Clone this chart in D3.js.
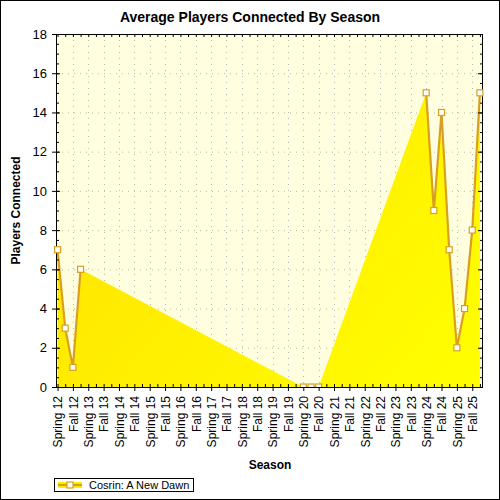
<!DOCTYPE html>
<html>
<head>
<meta charset="utf-8">
<script src="https://cdn.jsdelivr.net/npm/d3@7"></script>
<style>
  body { margin: 0; background: #fff; }
  svg { display: block; font-family: Arial, "Liberation Sans", sans-serif; }
  .tick line { stroke: #000; }
</style>
</head>
<body>
<div id="chart"></div>
<script>
// x labels: one per season, two data steps per season
const seasons = [
    'Spring 12', 'Fall 12', 'Spring 13', 'Fall 13', 'Spring 14', 'Fall 14',
    'Spring 15', 'Fall 15', 'Spring 16', 'Fall 16', 'Spring 17', 'Fall 17',
    'Spring 18', 'Fall 18', 'Spring 19', 'Fall 19', 'Spring 20', 'Fall 20',
    'Spring 21', 'Fall 21', 'Spring 22', 'Fall 22', 'Spring 23', 'Fall 23',
    'Spring 24', 'Fall 24', 'Spring 25', 'Fall 25'
];
// half-season steps that have a value (0 = Spring 12)
const pointSteps  = [0, 1, 2, 3, 32, 33, 34, 48, 49, 50, 51, 52, 53, 54, 55];
const pointValues = [7, 3, 1, 6, 0, 0, 0, 15, 9, 14, 7, 2, 4, 8, 15];
const yTicks = [0, 2, 4, 6, 8, 10, 12, 14, 16, 18];
const seriesName = 'Cosrin: A New Dawn';

const W = 500, H = 500;
const plot = { left: 56, right: 483, top: 34, bottom: 387 };
const lineColor = '#d9a020';

const data = pointSteps.map((s, i) => ({ step: s, value: pointValues[i] }));

const svg = d3.select('#chart').append('svg')
    .attr('width', W)
    .attr('height', H);

const defs = svg.append('defs');
const grad = defs.append('linearGradient')
    .attr('id', 'areaFill')
    .attr('gradientUnits', 'userSpaceOnUse')
    .attr('x1', plot.left).attr('y1', plot.top)
    .attr('x2', plot.right).attr('y2', plot.bottom);
grad.append('stop').attr('offset', '0%').attr('stop-color', '#ffdf00');
grad.append('stop').attr('offset', '100%').attr('stop-color', '#ffff00');

// clip only the bottom edge, markers may stick out left/right
defs.append('clipPath').attr('id', 'plotClip')
    .append('rect')
    .attr('x', plot.left - 10).attr('y', plot.top - 10)
    .attr('width', plot.right - plot.left + 20)
    .attr('height', plot.bottom - plot.top + 10);

svg.append('rect')
    .attr('x', 0.5).attr('y', 0.5)
    .attr('width', W - 1).attr('height', H - 1)
    .attr('fill', '#fff')
    .attr('stroke', '#000');

const x = d3.scaleLinear()
    .domain([-0.2, 55.4])
    .range([plot.left, plot.right]);

const y = d3.scaleLinear()
    .domain([0, 18])
    .range([plot.bottom, plot.top]);

// plot background
svg.append('rect')
    .attr('x', plot.left).attr('y', plot.top)
    .attr('width', plot.right - plot.left)
    .attr('height', plot.bottom - plot.top)
    .attr('fill', '#ffffe0');

// dotted grid
const grid = svg.append('g')
    .attr('stroke', '#b8b8b0')
    .attr('stroke-dasharray', '1,5');
grid.selectAll('.hgrid')
    .data(yTicks.filter(v => v > 0 && v < 18))
    .enter().append('line')
    .attr('x1', plot.left).attr('x2', plot.right)
    .attr('y1', d => y(d) + 0.5).attr('y2', d => y(d) + 0.5);
grid.selectAll('.vgrid')
    .data(seasons.map((s, i) => i * 2).filter(s => s > 0))
    .enter().append('line')
    .attr('y1', plot.top).attr('y2', plot.bottom)
    .attr('x1', d => Math.round(x(d)) + 0.5).attr('x2', d => Math.round(x(d)) + 0.5);

const series = svg.append('g').attr('clip-path', 'url(#plotClip)');

// area joins every point with a value, across the gaps
const area = d3.area()
    .x(d => x(d.step))
    .y0(y(0))
    .y1(d => y(d.value));

series.append('path')
    .datum(data)
    .attr('d', area)
    .attr('fill', 'url(#areaFill)');

// line only joins neighbouring steps
const segments = [];
data.forEach((d, i) => {
    if (i === 0 || d.step - data[i - 1].step > 1) segments.push([]);
    segments[segments.length - 1].push(d);
});

const line = d3.line()
    .x(d => x(d.step))
    .y(d => y(d.value));

series.selectAll('.series-line')
    .data(segments)
    .enter().append('path')
    .attr('class', 'series-line')
    .attr('d', line)
    .attr('fill', 'none')
    .attr('stroke', lineColor)
    .attr('stroke-width', 2.2);

// axes
const halfSteps = d3.range(0, 56);
const minorY = d3.range(0, 18.01, 0.5);
const seasonSteps = seasons.map((s, i) => i * 2);

function noDomain(g) { g.select('.domain').remove(); }

svg.append('g')
    .attr('transform', `translate(${plot.left},0)`)
    .call(d3.axisLeft(y).tickValues(yTicks).tickSize(4).tickPadding(5))
    .call(noDomain)
    .call(g => g.selectAll('text').attr('font-size', 13).attr('fill', '#000').attr('font-family', 'Arial, "Liberation Sans", sans-serif'));

svg.append('g')
    .attr('transform', `translate(${plot.left},0)`)
    .call(d3.axisRight(y).tickValues(minorY).tickSize(3).tickFormat(''))
    .call(noDomain);
svg.append('g')
    .attr('transform', `translate(${plot.left},0)`)
    .call(d3.axisRight(y).tickValues(yTicks).tickSize(4).tickFormat(''))
    .call(noDomain);

svg.append('g')
    .attr('transform', `translate(${plot.right},0)`)
    .call(d3.axisLeft(y).tickValues(minorY).tickSize(3).tickFormat(''))
    .call(noDomain);
svg.append('g')
    .attr('transform', `translate(${plot.right},0)`)
    .call(d3.axisLeft(y).tickValues(yTicks).tickSize(5).tickFormat(''))
    .call(noDomain);

svg.append('g')
    .attr('transform', `translate(0,${plot.top})`)
    .call(d3.axisBottom(x).tickValues(halfSteps).tickSize(3).tickFormat(''))
    .call(noDomain);

svg.append('g')
    .attr('transform', `translate(0,${plot.bottom})`)
    .call(d3.axisTop(x).tickValues(halfSteps).tickSize(3).tickFormat(''))
    .call(noDomain);

svg.append('g')
    .attr('transform', `translate(0,${plot.bottom})`)
    .call(d3.axisBottom(x).tickValues(seasonSteps).tickSize(4)
        .tickFormat(s => seasons[s / 2]))
    .call(noDomain)
    .call(g => g.selectAll('text')
        .attr('transform', 'rotate(-90)')
        .attr('x', -9)
        .attr('y', 0)
        .attr('dy', '0.36em')
        .attr('font-size', 12)
        .attr('fill', '#000')
        .attr('font-family', 'Arial, "Liberation Sans", sans-serif')
        .style('text-anchor', 'end'));

// plot frame
svg.append('rect')
    .attr('x', plot.left + 0.5).attr('y', plot.top + 0.5)
    .attr('width', plot.right - plot.left - 1)
    .attr('height', plot.bottom - plot.top)
    .attr('fill', 'none')
    .attr('stroke', '#000');

// markers over the frame, still clipped at the bottom
const markerLayer = svg.append('g').attr('clip-path', 'url(#plotClip)');
markerLayer.selectAll('.marker')
    .data(data)
    .enter().append('rect')
    .attr('class', 'marker')
    .attr('x', d => x(d.step) - 3)
    .attr('y', d => y(d.value) - 3)
    .attr('width', 6)
    .attr('height', 6)
    .attr('fill', '#fff')
    .attr('stroke', lineColor)
    .attr('stroke-width', 1.2);

// titles
svg.append('text')
    .attr('x', 250).attr('y', 22)
    .attr('text-anchor', 'middle')
    .attr('font-size', 14)
    .attr('font-weight', 'bold')
    .text('Average Players Connected By Season');

svg.append('text')
    .attr('x', 270).attr('y', 469)
    .attr('text-anchor', 'middle')
    .attr('font-size', 12)
    .attr('font-weight', 'bold')
    .text('Season');

svg.append('text')
    .attr('transform', `translate(20,${(plot.top + plot.bottom) / 2}) rotate(-90)`)
    .attr('text-anchor', 'middle')
    .attr('font-size', 12)
    .attr('font-weight', 'bold')
    .text('Players Connected');

// legend
const legend = svg.append('g').attr('transform', 'translate(54,478)');
legend.append('rect')
    .attr('x', 0.5).attr('y', 0.5)
    .attr('width', 139).attr('height', 13)
    .attr('fill', '#fff')
    .attr('stroke', '#000');
legend.append('rect')
    .attr('x', 4).attr('y', 4)
    .attr('width', 24).attr('height', 6)
    .attr('fill', '#ffee00');
legend.append('line')
    .attr('x1', 4).attr('x2', 28)
    .attr('y1', 7).attr('y2', 7)
    .attr('stroke', lineColor)
    .attr('stroke-width', 2.2);
legend.append('rect')
    .attr('x', 13).attr('y', 4)
    .attr('width', 6).attr('height', 6)
    .attr('fill', '#fff')
    .attr('stroke', lineColor)
    .attr('stroke-width', 1.2);
legend.append('text')
    .attr('x', 35).attr('y', 11)
    .attr('font-size', 11)
    .text(seriesName);
</script>
</body>
</html>
